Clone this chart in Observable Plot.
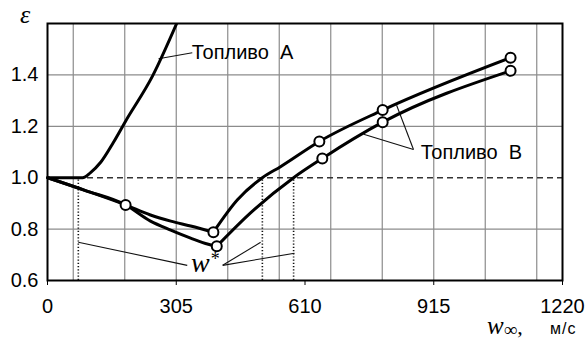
<!DOCTYPE html>
<html>
<head>
<meta charset="utf-8">
<script src="https://cdn.jsdelivr.net/npm/d3@7"></script>
<script src="https://cdn.jsdelivr.net/npm/@observablehq/plot@0.6"></script>
<style>
  html, body { margin: 0; padding: 0; background: #fff; }
</style>
</head>
<body>
<div id="chart"></div>
<script>
// ---- data ----
const xTicks = [0, 305, 610, 915, 1220];
const yTicks = [0.6, 0.8, 1.0, 1.2, 1.4];
const gridX = [61, 183, 305, 427, 549, 671, 793, 915, 1037, 1159];
const gridY = [0.8, 1.2, 1.4];
const refY = [1.0];

// Fuel A curve
const fuelAx = [0, 83, 102, 126, 156, 185, 249, 306];
const fuelAy = [1.0, 1.0, 1.02, 1.06, 1.137, 1.22, 1.396, 1.6];

// Fuel B, upper curve
const fuelB1x = [0, 90, 185, 244, 292, 339, 393, 450, 509, 552, 644, 794, 1097];
const fuelB1y = [1.0, 0.95, 0.894, 0.855, 0.831, 0.812, 0.788, 0.914, 1.0, 1.043, 1.141, 1.263, 1.467];
// Fuel B, lower curve
const fuelB2x = [0, 90, 185, 244, 292, 339, 381, 401, 481, 583, 651, 794, 1097];
const fuelB2y = [1.0, 0.95, 0.894, 0.831, 0.796, 0.765, 0.741, 0.733, 0.863, 1.0, 1.075, 1.216, 1.416];

// marker points
const markX = [185, 393, 644, 794, 1097, 401, 651, 794, 1097];
const markY = [0.894, 0.788, 1.141, 1.263, 1.467, 0.733, 1.075, 1.216, 1.416];

// w* dotted lines
const wStarX = [73, 509, 583];

// leader lines
const leadX1 = [263, 867, 867, 73, 415, 415];
const leadY1 = [1.463, 1.11, 1.11, 0.749, 0.659, 0.659];
const leadX2 = [343, 827, 749, 331, 505, 585];
const leadY2 = [1.486, 1.282, 1.169, 0.659, 0.749, 0.706];

// labels
const labelText = ["Топливо\u00a0\u00a0А", "Топливо\u00a0\u00a0В"];
const labelX = [342, 884];
const labelY = [1.463, 1.0745];

const wStarLabelX = [341];
const wStarLabelY = [0.631];

// ---- build tables ----
const A = fuelAx.map((x, i) => ({x, y: fuelAy[i]}));
// split each B curve at its minimum so the corner sits under the marker
function splitAtMin(xs, ys, name) {
  let m = 0;
  ys.forEach((v, i) => { if (v < ys[m]) m = i; });
  const out = [];
  xs.forEach((x, i) => {
    if (i <= m) out.push({x, y: ys[i], z: name + "a"});
    if (i >= m) out.push({x, y: ys[i], z: name + "b"});
  });
  return out;
}
const B = splitAtMin(fuelB1x, fuelB1y, "B1").concat(splitAtMin(fuelB2x, fuelB2y, "B2"));
const marks = markX.map((x, i) => ({x, y: markY[i]}));
const leads = leadX1.map((x1, i) => ({x1, y1: leadY1[i], x2: leadX2[i], y2: leadY2[i]}));
const labels = labelText.map((t, i) => ({t, x: labelX[i], y: labelY[i]}));

const plot = Plot.plot({
  width: 585,
  height: 340,
  marginLeft: 47,
  marginRight: 23,
  marginTop: 23,
  marginBottom: 60,
  style: {fontFamily: "'Liberation Sans', Arial, sans-serif", fontSize: "20px", color: "black", background: "white"},
  x: {domain: [0, 1220], ticks: xTicks, tickSize: 5, tickPadding: 13, tickFormat: d => String(d), label: null},
  y: {domain: [0.6, 1.6], ticks: yTicks, tickSize: 0, tickPadding: 9, tickFormat: d3.format(".1f"), label: null},
  marks: [
    Plot.ruleX(gridX, {stroke: "#8c8c8c", strokeWidth: 1.2}),
    Plot.ruleY(gridY, {stroke: "#8c8c8c", strokeWidth: 1.2}),
    Plot.ruleY(refY, {stroke: "#333", strokeWidth: 1.6, strokeDasharray: "6,4"}),
    Plot.ruleX(wStarX, {y1: yTicks[0], y2: refY[0], stroke: "#111", strokeWidth: 1.6, strokeDasharray: "1.2,2"}),
    Plot.link(leads, {x1: "x1", y1: "y1", x2: "x2", y2: "y2", stroke: "#111", strokeWidth: 1.1}),
    Plot.line(A, {x: "x", y: "y", curve: "monotone-x", stroke: "black", strokeWidth: 3, clip: true}),
    Plot.line(B, {x: "x", y: "y", z: "z", curve: "monotone-x", stroke: "black", strokeWidth: 3, strokeLinejoin: "round"}),
    Plot.dot(marks, {x: "x", y: "y", r: 5, fill: "white", stroke: "black", strokeWidth: 2}),
    Plot.text(labels, {x: "x", y: "y", text: "t", textAnchor: "start", lineAnchor: "bottom", fontSize: 20, fill: "black"}),
    Plot.frame({stroke: "black", strokeWidth: 2})
  ]
});

document.getElementById("chart").appendChild(plot);

// ---- extra labels with sub/superscripts ----
const svg = d3.select(plot);
const sx = plot.scale("x"), sy = plot.scale("y");

const wt = svg.append("text")
  .attr("text-anchor", "start")
  .attr("x", sx.apply(wStarLabelX[0]))
  .attr("y", sy.apply(wStarLabelY[0]))
  .attr("font-family", "'Liberation Serif', 'DejaVu Serif', serif")
  .attr("font-style", "italic")
  .attr("font-size", 28)
  .attr("fill", "black");
wt.append("tspan").text("w");
wt.append("tspan").attr("font-size", 18).attr("dy", -7).attr("dx", 1).attr("font-style", "normal").text("*");

// y-axis label epsilon
svg.append("text")
  .attr("text-anchor", "start")
  .attr("x", 20).attr("y", 23)
  .attr("font-family", "'Liberation Serif', 'DejaVu Serif', serif")
  .attr("font-style", "italic")
  .attr("font-size", 26)
  .attr("fill", "black")
  .text("ε");

// x-axis label
const xl = svg.append("text")
  .attr("text-anchor", "start")
  .attr("x", 487).attr("y", 334)
  .attr("fill", "black");
xl.append("tspan")
  .attr("font-family", "'Liberation Serif', 'DejaVu Serif', serif")
  .attr("font-style", "italic").attr("font-size", 25).text("w");
xl.append("tspan")
  .attr("font-family", "'Liberation Serif', 'DejaVu Serif', serif")
  .attr("font-size", 19).attr("dy", 2).text("∞");
xl.append("tspan")
  .attr("font-family", "'Liberation Serif', serif")
  .attr("font-size", 22).attr("dy", -2).text(",");
svg.append("text")
  .attr("text-anchor", "start")
  .attr("x", 550).attr("y", 334)
  .attr("font-family", "'Liberation Sans', Arial, sans-serif")
  .attr("font-size", 16)
  .attr("letter-spacing", 1)
  .attr("fill", "black")
  .text("м/с");
</script>
</body>
</html>
